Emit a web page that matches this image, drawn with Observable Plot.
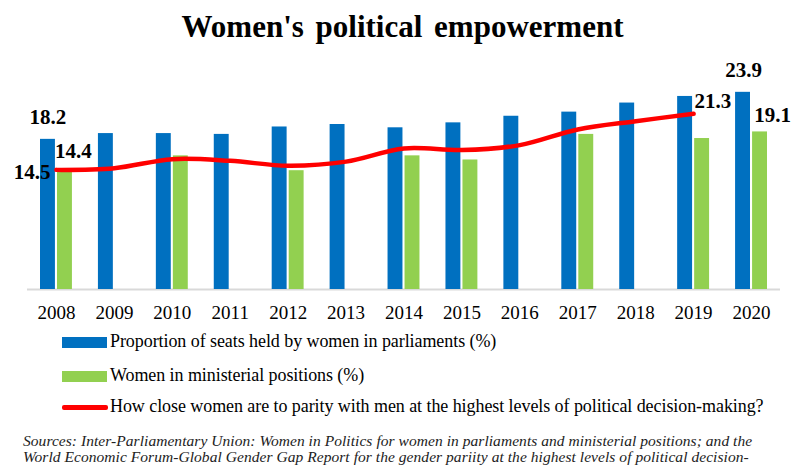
<!DOCTYPE html>
<html>
<head>
<meta charset="utf-8">
<script src="https://cdn.jsdelivr.net/npm/d3@7"></script>
<script src="https://cdn.jsdelivr.net/npm/@observablehq/plot@0.6"></script>
<style>
  html, body { margin: 0; padding: 0; background: #fff; }
  #wrap { position: relative; width: 795px; height: 466px; overflow: hidden; font-family: "Liberation Serif", "Times New Roman", serif; color: #000; }
  #title { position: absolute; left: 5px; top: 8px; width: 795px; text-align: center; font-weight: bold; font-size: 31px; line-height: 38px; word-spacing: 4px; }
  #chart { position: absolute; left: 0; top: 50px; }
  .sw { position: absolute; left: 62px; }
  .lt { position: absolute; left: 110px; font-size: 18px; line-height: 20px; white-space: nowrap; letter-spacing: -0.07px; }
  #cap { position: absolute; left: 23px; top: 433px; font-family: "Liberation Serif", "Times New Roman", serif; font-style: italic; font-size: 15.5px; line-height: 16px; white-space: nowrap; letter-spacing: 0.05px; color: #222; }
</style>
</head>
<body>
<div id="wrap">
  <div id="title"></div>
  <div id="chart"></div>
  <div id="legend"></div>
  <div id="cap"></div>
</div>
<script>
const titleText = "Women's political empowerment";
const years = ["2008","2009","2010","2011","2012","2013","2014","2015","2016","2017","2018","2019","2020"];
const seats = [18.2, 18.9, 18.9, 18.8, 19.7, 20.0, 19.6, 20.2, 21.0, 21.5, 22.6, 23.4, 23.9];
const ministers = [14.4, null, 16.2, null, 14.4, null, 16.2, 15.7, null, 18.8, null, 18.3, 19.1];
const parity = [14.5, 14.7, 15.8, 15.6, 15.0, 15.5, 17.1, 16.9, 17.5, 19.4, 20.4, 21.3, null];
const seriesNames = [
  "Proportion of seats held by women in parliaments (%)",
  "Women in ministerial positions (%)",
  "How close women are to parity with men at the highest levels of political decision-making?"
];
const colors = ["#0070c0", "#92d050", "#ff0000"];
const captionLines = [
  "Sources: Inter-Parliamentary Union: Women in Politics for women in parliaments and ministerial positions; and the",
  "World Economic Forum-Global Gender Gap Report for the gender pariity at the highest levels of political decision-"
];

const seatRows = years.map((y, i) => ({year: y, value: seats[i]}));
const minRows = years.map((y, i) => ({year: y, value: ministers[i]})).filter(d => d.value != null);
const parRows = years.map((y, i) => ({year: y, value: parity[i]})).filter(d => d.value != null);

const firstLast = rows => [rows[0], rows[rows.length - 1]];
const seatLab = firstLast(seatRows);
const minLab = firstLast(minRows);
const parLab = firstLast(parRows);
const fmt = d => d.value.toFixed(1);

document.getElementById("title").textContent = titleText;

const plot = Plot.plot({
  width: 795,
  height: 279,
  marginTop: 8,
  marginBottom: 40,
  marginLeft: 27,
  marginRight: 15,
  style: {fontFamily: "'Liberation Serif', 'Times New Roman', serif", fontSize: "19px", color: "#000", background: "#fff", overflow: "visible"},
  x: {type: "band", domain: years, padding: 0, round: false},
  y: {domain: [0, 28], axis: null},
  marks: [
    Plot.ruleY([0], {stroke: "#d9d9d9", strokeWidth: 2}),
    Plot.barY(seatRows, {x: "year", y: "value", fill: colors[0], insetLeft: 13, insetRight: 30}),
    Plot.barY(minRows, {x: "year", y: "value", fill: colors[1], insetLeft: 30, insetRight: 13}),
    Plot.line(parRows, {x: "year", y: "value", stroke: colors[2], strokeWidth: 4.5, curve: "catmull-rom", strokeLinecap: "round"}),
    Plot.axisX({tickSize: 0, tickPadding: 16, fontSize: 19, label: null}),
    Plot.text([seatLab[0]], {x: "year", y: "value", text: fmt, dx: -8.5, dy: -22, fontSize: 21, fontWeight: "bold"}),
    Plot.text([seatLab[1]], {x: "year", y: "value", text: fmt, dx: -8, dy: -22, fontSize: 21, fontWeight: "bold"}),
    Plot.text([minLab[0]], {x: "year", y: "value", text: fmt, dx: 17, dy: -19.5, fontSize: 21, fontWeight: "bold"}),
    Plot.text([minLab[1]], {x: "year", y: "value", text: fmt, dx: 21, dy: -17, fontSize: 21, fontWeight: "bold"}),
    Plot.text([parLab[0]], {x: "year", y: "value", text: fmt, dx: -6, dy: 2, textAnchor: "end", fontSize: 21, fontWeight: "bold"}),
    Plot.text([parLab[1]], {x: "year", y: "value", text: fmt, dx: 1, dy: -13, textAnchor: "start", fontSize: 21, fontWeight: "bold"})
  ]
});
document.getElementById("chart").appendChild(plot);

// legend
const legend = document.getElementById("legend");
const legTops = [342, 376, 407];
seriesNames.forEach((name, i) => {
  const sw = document.createElement("div");
  sw.className = "sw";
  if (i < 2) {
    sw.style.top = (legTops[i] - 5.5) + "px";
    sw.style.width = "45px";
    sw.style.height = "11px";
  } else {
    sw.style.top = (legTops[i] - 2) + "px";
    sw.style.width = "46px";
    sw.style.height = "4.5px";
    sw.style.borderRadius = "2px";
  }
  sw.style.background = colors[i];
  legend.appendChild(sw);
  const t = document.createElement("div");
  t.className = "lt";
  t.style.top = (legTops[i] - 11) + "px";
  t.textContent = name;
  legend.appendChild(t);
});

const cap = document.getElementById("cap");
captionLines.forEach(l => {
  const d = document.createElement("div");
  d.textContent = l;
  cap.appendChild(d);
});
</script>
</body>
</html>
